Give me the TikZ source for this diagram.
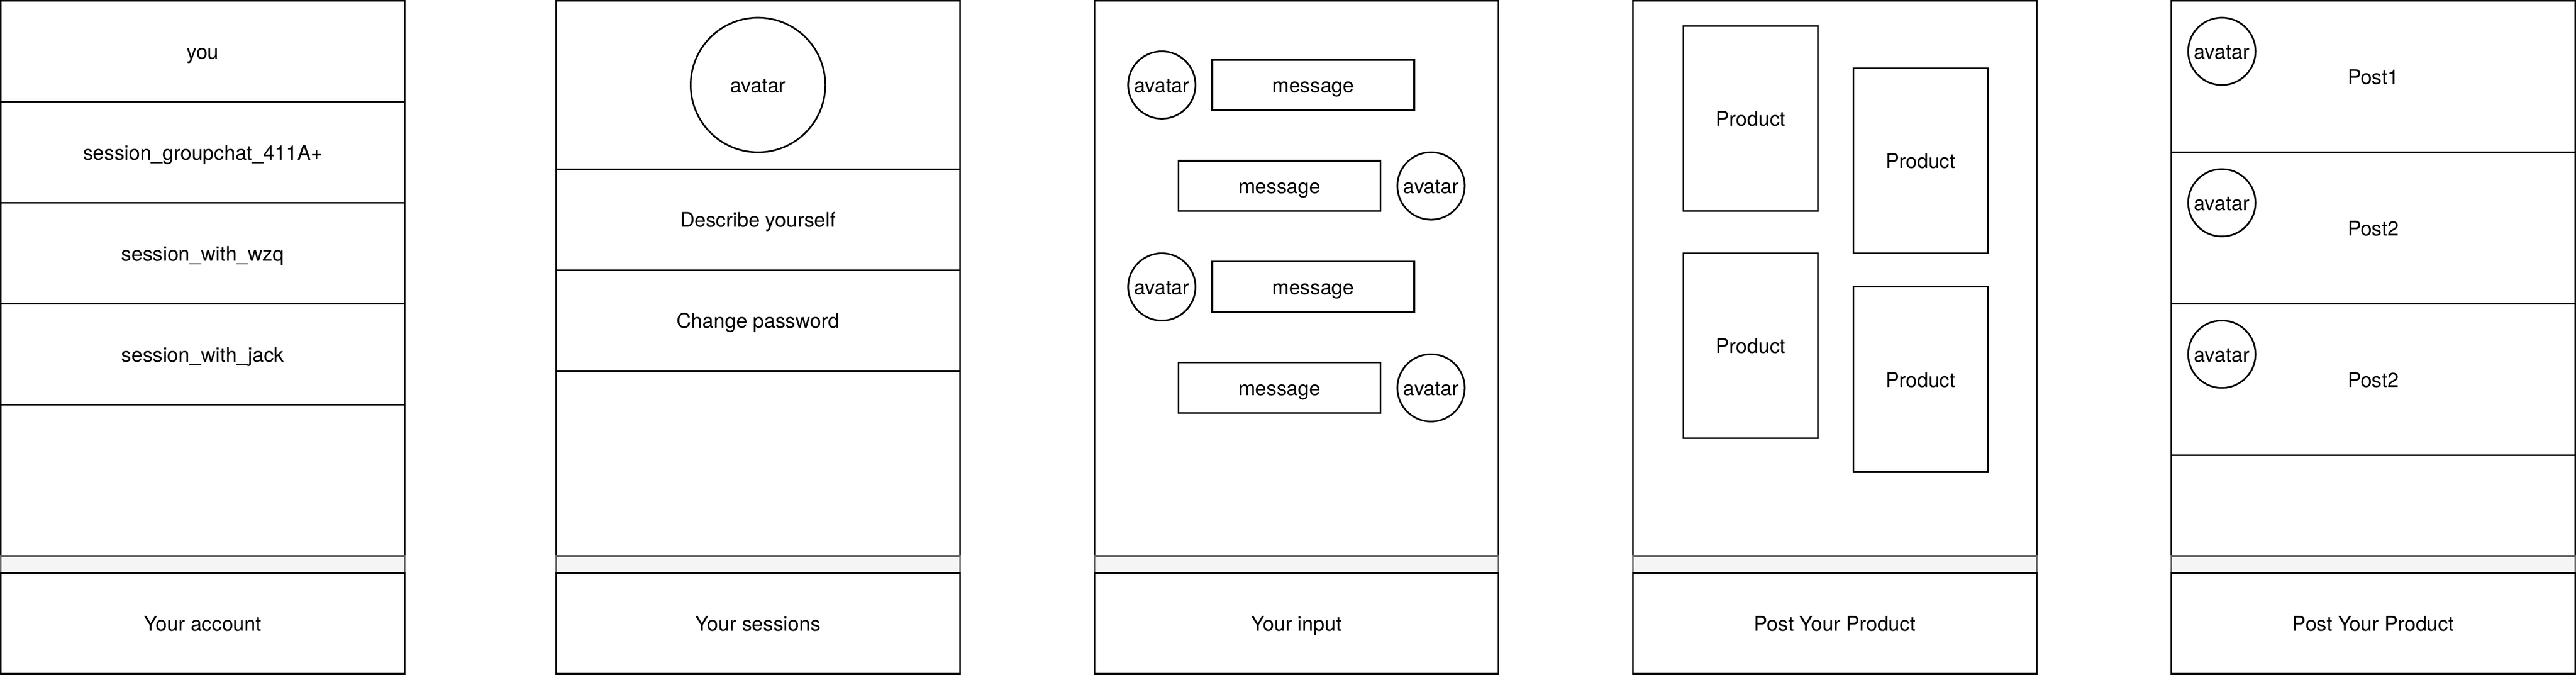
\documentclass[tikz,border=0pt]{standalone}
\usepackage{fontspec}
\setmainfont{TeX Gyre Heros}
\definecolor{bargray}{HTML}{666666}
\definecolor{barfill}{HTML}{F5F5F5}
\begin{document}
\begin{tikzpicture}[x=1pt,y=-1pt,
  base/.style={draw=black, line width=1pt, inner sep=0pt, outer sep=0pt, font=\fontsize{12}{14}\selectfont, align=center, text height=12pt, text depth=3pt},
  mainbox/.style={base, rectangle, minimum width=240pt, minimum height=330pt},
  rowbox/.style={base, rectangle, minimum width=240pt, minimum height=60pt},
  postbox/.style={base, rectangle, minimum width=240pt, minimum height=90pt},
  topbox/.style={base, rectangle, minimum width=240pt, minimum height=100pt},
  barbox/.style={base, rectangle, draw=bargray, fill=barfill, minimum width=240pt, minimum height=10pt, text height=0pt, text depth=0pt},
  avsmall/.style={base, circle, minimum size=40pt},
  avbig/.style={base, circle, minimum size=80pt},
  msgbox/.style={base, rectangle, minimum width=120pt, minimum height=30pt},
  prodbox/.style={base, rectangle, minimum width=80pt, minimum height=110pt}]
\useasboundingbox (-0.5,-0.5) rectangle (1530.5,400.5);

% Panel 1
\node[mainbox] (p1main) at (120,165) {};
\node[rowbox] (p1r1) at (120,30) {you};
\node[rowbox] (p1r2) at (120,90) {session\_groupchat\_411A+};
\node[rowbox] (p1r3) at (120,150) {session\_with\_wzq};
\node[rowbox] (p1r4) at (120,210) {session\_with\_jack};
\node[barbox] (p1bar) at (120,335) {};
\node[rowbox] (p1bot) at (120,370) {Your account};

% Panel 2
\node[mainbox] (p2main) at (450,165) {};
\node[topbox] (p2top) at (450,50) {};
\node[avbig] (p2av) at (450,50) {avatar};
\node[rowbox] (p2r1) at (450,130) {Describe yourself};
\node[rowbox] (p2r2) at (450,190) {Change password};
\node[barbox] (p2bar) at (450,335) {};
\node[rowbox] (p2bot) at (450,370) {Your sessions};

% Panel 3
\node[mainbox] (p3main) at (770,165) {};
\node[avsmall] (p3a1) at (690,50) {avatar};
\node[msgbox] (p3m1) at (780,50) {message};
\node[msgbox] (p3m2) at (760,110) {message};
\node[avsmall] (p3a2) at (850,110) {avatar};
\node[avsmall] (p3a3) at (690,170) {avatar};
\node[msgbox] (p3m3) at (780,170) {message};
\node[msgbox] (p3m4) at (760,230) {message};
\node[avsmall] (p3a4) at (850,230) {avatar};
\node[barbox] (p3bar) at (770,335) {};
\node[rowbox] (p3bot) at (770,370) {Your input};

% Panel 4
\node[mainbox] (p4main) at (1090,165) {};
\node[prodbox] (p4p1) at (1040,70) {Product};
\node[prodbox] (p4p2) at (1141,95) {Product};
\node[prodbox] (p4p3) at (1040,205) {Product};
\node[prodbox] (p4p4) at (1141,225) {Product};
\node[barbox] (p4bar) at (1090,335) {};
\node[rowbox] (p4bot) at (1090,370) {Post Your Product};

% Panel 5
\node[mainbox] (p5main) at (1410,165) {};
\node[postbox] (p5r1) at (1410,45) {Post1};
\node[avsmall] (p5a1) at (1320,30) {avatar};
\node[postbox] (p5r2) at (1410,135) {Post2};
\node[avsmall] (p5a2) at (1320,120) {avatar};
\node[postbox] (p5r3) at (1410,225) {Post2};
\node[avsmall] (p5a3) at (1320,210) {avatar};
\node[barbox] (p5bar) at (1410,335) {};
\node[rowbox] (p5bot) at (1410,370) {Post Your Product};
\end{tikzpicture}
\end{document}
